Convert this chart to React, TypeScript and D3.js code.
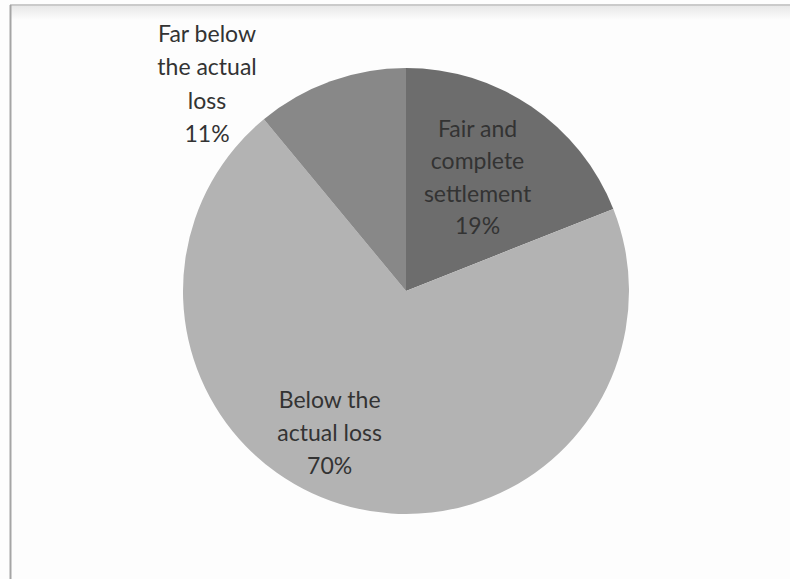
import React from "react";
import * as d3 from "d3";

const categories = ["Fair and complete settlement", "Below the actual loss", "Far below the actual loss"];
const values = [19, 70, 11];
const labelLines = [
  ["Fair and", "complete", "settlement", "19%"],
  ["Below the", "actual loss", "70%"],
  ["Far below", "the actual", "loss", "11%"],
];
const colors = ["#6d6d6d", "#b3b3b3", "#888888"];

// label placement (polar: angle in degrees from 12 o'clock, radius in px)
const labelPolar = [
  { angle: 32, r: 135 },
  { angle: 208.5, r: 160 },
  { angle: 316.3, r: 288 },
];

const W = 790;
const H = 579;
const cx = 406;
const cy = 291;
const R = 223;

export default function App() {
  const pie = d3.pie<number>().sort(null).value((d) => d)(values);
  const arc = d3.arc<d3.PieArcDatum<number>>().innerRadius(0).outerRadius(R);
  const lh = [32.5, 33, 33.5];
  return (
    <div style={{ position: "absolute", left: 0, top: 0 }}>
      <svg width={W} height={H} style={{ display: "block", background: "#fdfdfd" }}>
        <defs>
          <linearGradient id="topfade" x1="0" y1="0" x2="0" y2="1">
            <stop offset="0" stopColor="#e8e8e8" />
            <stop offset="1" stopColor="#fdfdfd" />
          </linearGradient>
        </defs>
        <rect x={10} y={6} width={W - 10} height={14} fill="url(#topfade)" />
        <line x1={10} y1={5} x2={W} y2={5} stroke="#b8b8b8" strokeWidth={1.5} />
        <line x1={10.5} y1={5} x2={10.5} y2={H} stroke="#a5a5a5" strokeWidth={2} />
        <g transform={`translate(${cx},${cy})`}>
          {pie.map((p, i) => (
            <path key={categories[i]} d={arc(p) || ""} fill={colors[i]} />
          ))}
        </g>
        {labelLines.map((lines, i) => {
          const a = (labelPolar[i].angle * Math.PI) / 180;
          const x = cx + labelPolar[i].r * Math.sin(a);
          const y = cy - labelPolar[i].r * Math.cos(a);
          const n = lines.length;
          return (
            <text
              key={categories[i]}
              x={x}
              y={y}
              textAnchor="middle"
              fontFamily="Lato, 'Open Sans', sans-serif"
              fontSize={23}
              fill="#333333"
            >
              {lines.map((t, j) => (
                <tspan key={j} x={x} y={y + (j - (n - 1) / 2) * lh[i]} dominantBaseline="central">
                  {t}
                </tspan>
              ))}
            </text>
          );
        })}
      </svg>
    </div>
  );
}
